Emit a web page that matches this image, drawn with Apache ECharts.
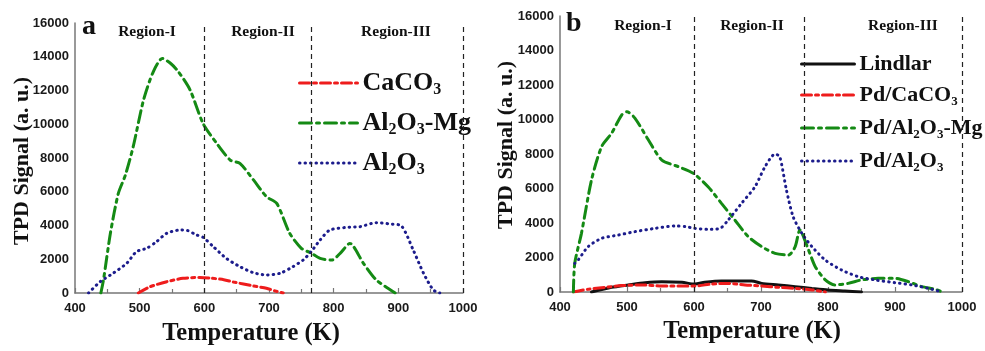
<!DOCTYPE html>
<html><head><meta charset="utf-8">
<script src="https://cdn.jsdelivr.net/npm/echarts@6/dist/echarts.min.js"></script>
<style>html,body{margin:0;padding:0;background:#fff}#c{width:985px;height:351px}</style>
</head><body><div id="c"></div>
<script>
// ---- Data (Temperature K, TPD signal a.u.) ----
const xTicks = [400, 500, 600, 700, 800, 900, 1000];
const yTicks = [0, 2000, 4000, 6000, 8000, 10000, 12000, 14000, 16000];
const regionBounds = [600, 765, 1000];
const regionNames = ['Region-I', 'Region-II', 'Region-III'];

// Panel a
const aCaCO3 = [[498,0],[516,370],[542,670],[567,870],[593,920],[610,880],[630,790],[645,650],[676,420],[696,280],[710,120],[722,0]];
const aAl2O3Mg = [[440,0],[444,770],[455,3600],[467,5900],[478,7000],[490,8670],[506,11440],[521,13110],[535,13900],[548,13600],[560,13110],[578,12030],[598,10050],[619,8870],[640,7880],[655,7680],[676,6700],[696,5710],[712,5310],[732,3540],[750,2650],[765,2370],[779,2050],[797,1950],[810,2350],[825,2940],[846,1760],[866,770],[892,80],[895,0]];
const aAl2O3 = [[421,0],[439,670],[459,1170],[480,1760],[495,2450],[511,2650],[526,3040],[542,3540],[562,3730],[574,3700],[588,3440],[598,3300],[614,2740],[634,2050],[655,1560],[676,1200],[696,1070],[717,1170],[737,1560],[753,1960],[765,2440],[779,3140],[794,3730],[820,3890],[841,3930],[866,4170],[887,4090],[905,3970],[923,2550],[939,1170],[954,180],[964,0]];

// Panel b
const bLindlar = [[447,0],[477,270],[502,410],[527,540],[552,600],[582,560],[601,460],[616,560],[641,640],[666,640],[686,640],[701,500],[726,410],[751,310],[776,210],[800,120],[825,60],[850,0]];
const bPdCaCO3 = [[420,0],[442,160],[467,270],[492,370],[522,410],[552,350],[582,350],[601,350],[626,460],[651,500],[676,410],[701,350],[726,270],[751,210],[776,120],[796,0]];
const bPdAl2O3Mg = [[420,0],[422,1660],[432,3400],[447,6490],[462,8420],[477,9200],[492,10260],[500,10450],[512,10070],[532,8810],[552,7650],[577,7260],[599,6880],[621,6100],[641,5140],[661,4170],[681,3210],[701,2630],[721,2240],[741,2140],[751,2630],[758,3590],[771,2430],[781,1470],[796,700],[810,410],[830,500],[850,700],[875,790],[900,790],[920,600],[940,310],[960,160],[970,0]];
const bPdAl2O3 = [[422,1660],[427,1850],[442,2630],[462,3110],[487,3300],[512,3500],[542,3690],[572,3830],[587,3790],[601,3690],[621,3630],[639,3690],[651,4170],[671,5140],[691,6100],[706,7260],[721,8000],[728,7840],[738,5910],[748,4360],[761,3400],[776,2630],[796,1850],[820,1280],[845,890],[870,700],[900,540],[925,410],[950,210],[970,0]];

// ---- Styles ----
const RED = '#ee1c1c', GREEN = '#148a14', BLUE = '#1c1c8c', BLACK = '#111';
const serif = '"Liberation Serif","Times New Roman",serif';
const sans = '"Liberation Sans",Arial,sans-serif';

function richFor(size) {
  const ss = Math.round(size * 0.6);
  return {
    n: {fontFamily: serif, fontWeight: 'bold', fontSize: size, lineHeight: size + 4, color: '#111'},
    s: {fontFamily: serif, fontWeight: 'bold', fontSize: ss, lineHeight: ss, padding: [size + 4 - ss, 0, 0, 0], color: '#111'}
  };
}
const legendFmt = {
  'CaCO3': '{n|CaCO}{s|3}',
  'Al2O3-Mg': '{n|Al}{s|2}{n|O}{s|3}{n|-Mg}',
  'Al2O3': '{n|Al}{s|2}{n|O}{s|3}',
  'Lindlar': '{n|Lindlar}',
  'Pd/CaCO3': '{n|Pd/CaCO}{s|3}',
  'Pd/Al2O3-Mg': '{n|Pd/Al}{s|2}{n|O}{s|3}{n|-Mg}',
  'Pd/Al2O3': '{n|Pd/Al}{s|2}{n|O}{s|3}'
};

const grids = [
  {left: 75, right: 522, top: 23, bottom: 58},
  {left: 560, right: 23, top: 16, bottom: 59}
];
function xAx(i) {
  return {type: 'value', gridIndex: i, min: 400, max: 1000, interval: 100,
    axisLine: {lineStyle: {color: '#777', width: 1.5}},
    axisTick: {show: true, inside: true, length: 5, lineStyle: {color: '#777', width: 1.2}},
    minorTick: {show: true, splitNumber: 2, length: 4, lineStyle: {color: '#777', width: 1.2}},
    splitLine: {show: false},
    axisLabel: {color: '#1a1a1a', fontFamily: sans, fontWeight: 'bold', fontSize: 13, margin: 9,
      formatter: v => xTicks.includes(v) ? String(v) : ''}
  };
}
function yAx(i) {
  return {type: 'value', gridIndex: i, min: 0, max: 16000, interval: 2000,
    axisLine: {show: true, lineStyle: {color: '#777', width: 1.5}},
    axisTick: {show: false}, splitLine: {show: false},
    axisLabel: {color: '#1a1a1a', fontFamily: sans, fontWeight: 'bold', fontSize: 13, margin: 6,
      formatter: v => yTicks.includes(v) ? String(v) : ''}
  };
}
function ser(name, data, idx, color, type, width, extra) {
  return Object.assign({name, type: 'line', xAxisIndex: idx, yAxisIndex: idx, data, smooth: 0.25,
    symbol: 'none', lineStyle: {color, width, type, cap: 'round'}, itemStyle: {color}, z: 3}, extra || {});
}
function markLines() {
  return {markLine: {silent: true, symbol: ['none', 'none'], label: {show: false},
    lineStyle: {color: '#222', width: 1.2, type: [5, 4]},
    data: regionBounds.map(v => ({xAxis: v}))}};
}

const series = [
  ser('CaCO3', aCaCO3, 0, RED, [10, 4, 3, 4], 3, markLines()),
  ser('Al2O3-Mg', aAl2O3Mg, 0, GREEN, [12, 5, 3, 5], 3),
  ser('Al2O3', aAl2O3, 0, BLUE, [0.5, 5], 3),
  ser('Lindlar', bLindlar, 1, BLACK, 'solid', 3, markLines()),
  ser('Pd/CaCO3', bPdCaCO3, 1, RED, [10, 4, 3, 4], 3),
  ser('Pd/Al2O3-Mg', bPdAl2O3Mg, 1, GREEN, [12, 5, 3, 5], 3),
  ser('Pd/Al2O3', bPdAl2O3, 1, BLUE, [0.5, 5], 3)
];

const regionXa = [147, 263, 396], regionXb = [643, 752, 903];
const texts = [];
regionNames.forEach((r, i) => {
  texts.push({type: 'text', x: regionXa[i], y: 32, style: {text: r, font: 'bold 15.5px ' + serif, fill: '#111', align: 'center', verticalAlign: 'middle'}});
  texts.push({type: 'text', x: regionXb[i], y: 26, style: {text: r, font: 'bold 15.5px ' + serif, fill: '#111', align: 'center', verticalAlign: 'middle'}});
});
texts.push({type: 'text', x: 82, y: 27, style: {text: 'a', font: 'bold 28px ' + serif, fill: '#111', verticalAlign: 'middle'}});
texts.push({type: 'text', x: 566, y: 24, style: {text: 'b', font: 'bold 28px ' + serif, fill: '#111', verticalAlign: 'middle'}});
texts.push({type: 'text', x: 251, y: 334, style: {text: 'Temperature (K)', font: 'bold 24.5px ' + serif, fill: '#111', align: 'center', verticalAlign: 'middle'}});
texts.push({type: 'text', x: 752, y: 332, style: {text: 'Temperature (K)', font: 'bold 24.5px ' + serif, fill: '#111', align: 'center', verticalAlign: 'middle'}});
texts.push({type: 'text', x: 22, y: 161, rotation: Math.PI / 2, style: {text: 'TPD Signal (a. u.)', font: 'bold 22px ' + serif, fill: '#111', align: 'center', verticalAlign: 'middle'}});
texts.push({type: 'text', x: 506, y: 145, rotation: Math.PI / 2, style: {text: 'TPD Signal (a. u.)', font: 'bold 22px ' + serif, fill: '#111', align: 'center', verticalAlign: 'middle'}});

const chart = echarts.init(document.getElementById('c'), null, {renderer: 'canvas'});
chart.setOption({
  animation: false,
  backgroundColor: '#fff',
  grid: grids,
  xAxis: [xAx(0), xAx(1)],
  yAxis: [yAx(0), yAx(1)],
  legend: [
    {data: ['CaCO3', 'Al2O3-Mg', 'Al2O3'], orient: 'vertical', left: 293, top: 63, itemWidth: 58, itemHeight: 14, itemGap: 10,
     itemStyle: {opacity: 0}, lineStyle: {width: 3}, formatter: n => legendFmt[n], textStyle: {rich: richFor(26)}},
    {data: ['Lindlar', 'Pd/CaCO3', 'Pd/Al2O3-Mg', 'Pd/Al2O3'], orient: 'vertical', left: 795, top: 48, itemWidth: 53, itemHeight: 14, itemGap: 7,
     itemStyle: {opacity: 0}, lineStyle: {width: 3}, formatter: n => legendFmt[n], textStyle: {rich: richFor(22)}}
  ],
  graphic: texts,
  series
});
</script></body></html>
